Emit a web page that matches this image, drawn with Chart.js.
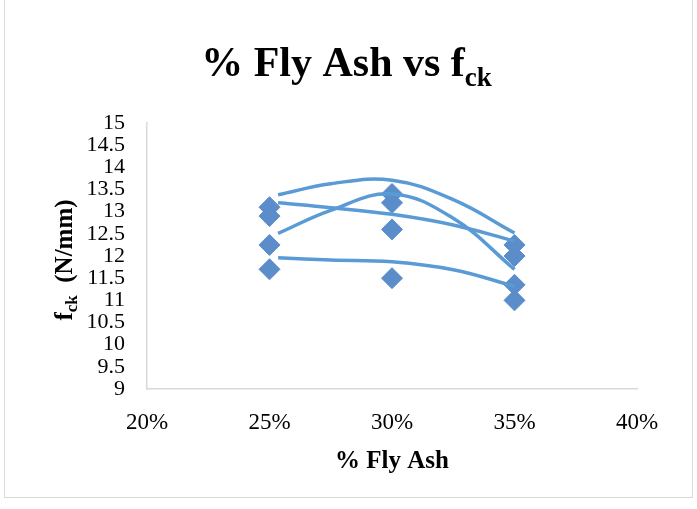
<!DOCTYPE html>
<html>
<head>
<meta charset="utf-8">
<title>% Fly Ash vs fck</title>
<script src="https://cdn.jsdelivr.net/npm/chart.js@4"></script>
<style>
  html, body { margin: 0; padding: 0; background: #ffffff; }
  #wrap { position: relative; width: 697px; height: 509px; overflow: hidden; }
  #wrap canvas { position: absolute; left: 0; top: 0; }
  #frame { position: absolute; left: 4px; top: -1px; width: 689px; height: 499px;
           border: 1px solid #d9d9d9; box-sizing: border-box; pointer-events: none; }
</style>
</head>
<body>
<div id="wrap">
  <canvas id="chart" width="697" height="509"></canvas>
  <div id="frame"></div>
</div>
<script>
// Fly ash replacement levels (%)
const flyAshPct = [25, 30, 35];

// Compressive strength fck (N/mm) for four mixes
const fckMix1 = [13.1, 13.4, 12.25];
const fckMix2 = [12.9, 13.2, 12.0];
const fckMix3 = [12.25, 12.6, 11.35];
const fckMix4 = [11.7, 11.5, 11.0];

// Polynomial trend lines, sampled along the fly ash axis
const trendPct  = [25.35, 27.5, 30, 32.5, 35];
const trendMix1 = [13.38, 13.63, 13.71, 13.27, 12.52];
const trendMix2 = [12.51, 13.03, 13.40, 12.85, 11.70];
const trendMix3 = [13.20, 13.09, 12.94, 12.70, 12.34];
const trendMix4 = [11.96, 11.91, 11.87, 11.69, 11.32];

// Axis ticks
const xTicks = [20, 25, 30, 35, 40];
const yTicks = [9, 9.5, 10, 10.5, 11, 11.5, 12, 12.5, 13, 13.5, 14, 14.5, 15];

const TITLE_MAIN = '% Fly Ash vs f';
const TITLE_SUB = 'ck';
const Y_MAIN = 'f';
const Y_SUB = 'ck';
const Y_REST = '  (N/mm)';
const X_TITLE = '% Fly Ash';

const SERIF = '"Liberation Serif", "Times New Roman", serif';
const LINE_BLUE = '#5b9bd5';
const MARK_BLUE = '#5a8dca';

const toPoints = (xs, ys) => xs.map((x, i) => ({ x: x, y: ys[i] }));

const markerSet = (ys) => ({
  type: 'scatter',
  data: toPoints(flyAshPct, ys),
  pointStyle: 'rectRot',
  pointRadius: 10.5,
  pointHoverRadius: 10.5,
  backgroundColor: MARK_BLUE,
  borderColor: MARK_BLUE,
  borderWidth: 1,
  showLine: false,
  order: 2
});

const trendSet = (ys) => ({
  type: 'scatter',
  data: toPoints(trendPct, ys),
  showLine: true,
  tension: 0.4,
  borderColor: LINE_BLUE,
  borderWidth: 3.5,
  pointRadius: 0,
  pointHoverRadius: 0,
  fill: false,
  order: 1
});

// Title and y-axis title carry subscripts, so they are drawn here
const subscriptTitles = {
  id: 'subscriptTitles',
  afterDraw(chart) {
    const ctx = chart.ctx;
    const area = chart.chartArea;
    ctx.save();
    ctx.fillStyle = '#000000';
    ctx.textBaseline = 'alphabetic';
    ctx.textAlign = 'left';

    // chart title
    const mainFont = 'bold 42px ' + SERIF;
    const subFont = 'bold 27px ' + SERIF;
    ctx.font = mainFont;
    const w1 = ctx.measureText(TITLE_MAIN).width;
    ctx.font = subFont;
    const w2 = ctx.measureText(TITLE_SUB).width;
    const x = chart.width / 2 - 2 - (w1 + w2) / 2;
    const base = 76;
    ctx.font = mainFont;
    ctx.fillText(TITLE_MAIN, x, base);
    ctx.font = subFont;
    ctx.fillText(TITLE_SUB, x + w1, base + 10);

    // y-axis title, rotated
    const yMainFont = 'bold 25px ' + SERIF;
    const ySubFont = 'bold 17px ' + SERIF;
    ctx.font = yMainFont;
    const a1 = ctx.measureText(Y_MAIN).width;
    const a3 = ctx.measureText(Y_REST).width;
    ctx.font = ySubFont;
    const a2 = ctx.measureText(Y_SUB).width;
    const total = a1 + a2 + a3;
    ctx.translate(72, (area.top + area.bottom) / 2 + 4);
    ctx.rotate(-Math.PI / 2);
    let px = -total / 2;
    ctx.font = yMainFont;
    ctx.fillText(Y_MAIN, px, 0);
    px += a1;
    ctx.font = ySubFont;
    ctx.fillText(Y_SUB, px, 5);
    px += a2;
    ctx.font = yMainFont;
    ctx.fillText(Y_REST, px, 0);
    ctx.restore();
  }
};

new Chart(document.getElementById('chart'), {
  type: 'scatter',
  data: {
    datasets: [
      trendSet(trendMix1), trendSet(trendMix2), trendSet(trendMix3), trendSet(trendMix4),
      markerSet(fckMix1), markerSet(fckMix2), markerSet(fckMix3), markerSet(fckMix4)
    ]
  },
  options: {
    responsive: false,
    animation: false,
    events: [],
    layout: { padding: { top: 123, right: 60, left: 0, bottom: 0 } },
    plugins: {
      legend: { display: false },
      title: { display: false },
      tooltip: { enabled: false }
    },
    scales: {
      x: {
        type: 'linear',
        min: xTicks[0],
        max: xTicks[xTicks.length - 1],
        afterBuildTicks: (s) => { s.ticks = xTicks.map(v => ({ value: v })); },
        afterFit: (s) => { s.height = 120; },
        grid: { display: false, drawTicks: false },
        border: { display: true, color: '#d9d9d9', width: 1.5 },
        ticks: {
          color: '#000000',
          padding: 20,
          maxRotation: 0,
          font: { family: SERIF, size: 23 },
          callback: (v) => v + '%'
        },
        title: {
          display: true,
          text: X_TITLE,
          color: '#000000',
          font: { family: SERIF, size: 25, weight: 'bold' },
          padding: { top: 0, bottom: 32 }
        }
      },
      y: {
        type: 'linear',
        min: yTicks[0],
        max: yTicks[yTicks.length - 1],
        afterBuildTicks: (s) => { s.ticks = yTicks.map(v => ({ value: v })); },
        afterFit: (s) => { s.width = 147; },
        grid: { display: false, drawTicks: false },
        border: { display: true, color: '#d9d9d9', width: 1.5 },
        ticks: {
          color: '#000000',
          padding: 22,
          font: { family: SERIF, size: 22 },
          autoSkip: false,
          callback: (v) => String(v)
        }
      }
    }
  },
  plugins: [subscriptTitles]
});
</script>
</body>
</html>
